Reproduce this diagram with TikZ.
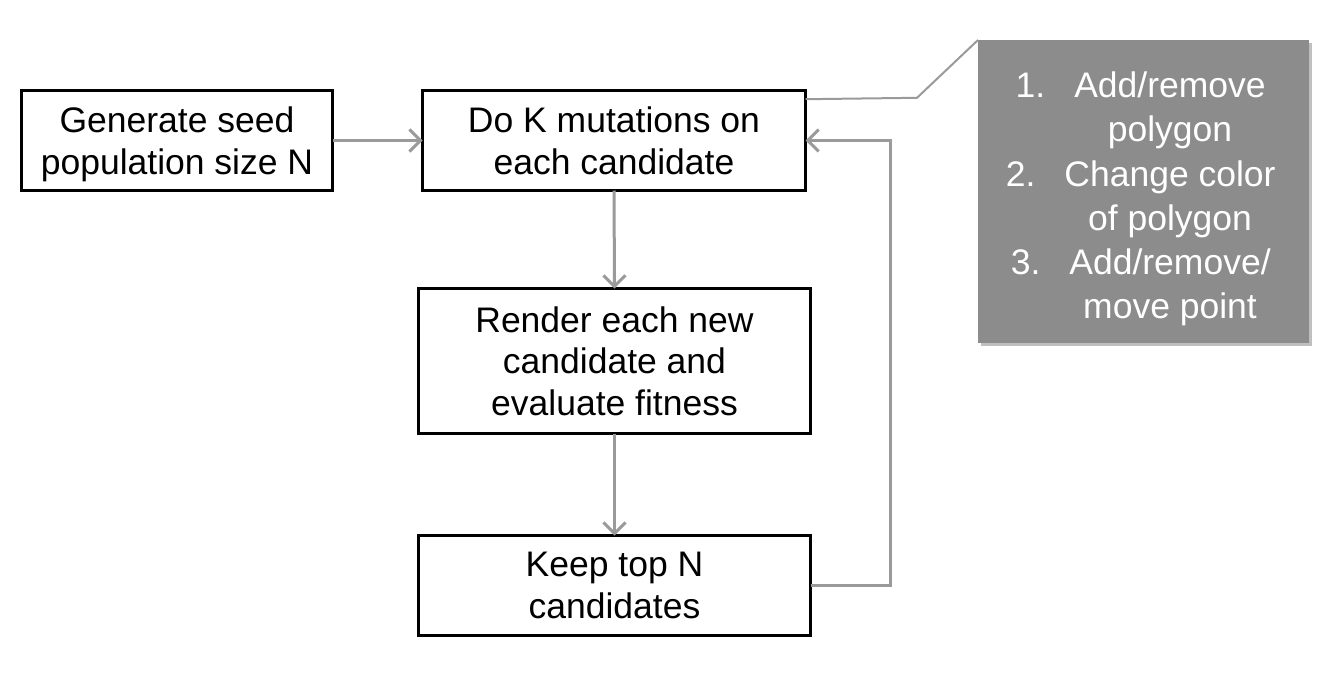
\documentclass[tikz,border=0pt]{standalone}
\usepackage{fontspec}
\setmainfont{Liberation Sans}
\usetikzlibrary{arrows.meta,shadows}
\definecolor{arrgray}{HTML}{9A9A9A}
\definecolor{notegray}{HTML}{8C8C8C}
\newcommand{\nodepth}[1]{\raisebox{0pt}[\height][0pt]{#1}}
\begin{document}
\begin{tikzpicture}[x=1pt,y=-1pt,
  stepbox/.style={draw=black, line width=3pt, fill=white, align=center,
    inner sep=0pt, outer sep=0pt, text=black,
    font=\fontsize{35.5}{41.5}\selectfont,
    drop shadow={shadow xshift=1.5pt, shadow yshift=-1.5pt, opacity=0.18, fill=black}},
  arr/.style={draw=arrgray, line width=3pt,
    -{Straight Barb[length=11pt,width=22pt,line width=3pt]}},
  notebox/.style={fill=notegray, draw=none, inner sep=0pt, outer sep=0pt,
    drop shadow={shadow xshift=2.5pt, shadow yshift=-2.5pt, opacity=0.25, fill=black}},
  notetext/.style={text=white, inner sep=0pt, outer sep=0pt,
    font=\fontsize{35.5}{42}\selectfont, anchor=base},
  leader/.style={draw=arrgray, line width=2pt}]
\useasboundingbox (0,0) rectangle (1332,678);

% main boxes
\node[stepbox, minimum width=311pt, minimum height=100pt] (A) at (177,140.5)
  {Generate seed\\\nodepth{population size N}};
\node[stepbox, minimum width=383pt, minimum height=100pt] (B) at (614,140.5)
  {Do K mutations on\\\nodepth{each candidate}};
\node[stepbox, minimum width=392pt, minimum height=145pt] (C) at (614.5,361)
  {Render each new\\candidate and\\\nodepth{evaluate fitness}};
\node[stepbox, minimum width=392pt, minimum height=100pt] (D) at (614.5,585.5)
  {Keep top N\\\nodepth{candidates}};

% callout box
\node[notebox, minimum width=331pt, minimum height=303pt] (note) at (1143.5,191.5) {};
\node[notetext] (l1) at (1170,97.8) {Add/remove};
\node[notetext] (l2) at (1170,141.9) {polygon};
\node[notetext] (l3) at (1170,186) {Change color};
\node[notetext] (l4) at (1170,230) {of polygon};
\node[notetext] (l5) at (1170,274) {Add/remove/};
\node[notetext] (l6) at (1170,318) {move point};
\node[notetext, anchor=base east] (n1) at ([xshift=-29pt]l1.base west) {1.};
\node[notetext, anchor=base east] (n2) at ([xshift=-29pt]l3.base west) {2.};
\node[notetext, anchor=base east] (n3) at ([xshift=-29pt]l5.base west) {3.};

% connectors
\draw[arr] (A.east) -- (B.west);
\draw[arr] (B.south) -- (C.north);
\draw[arr] (C.south) -- (D.north);
\coordinate (loop) at (890,585.5);
\draw[arr] (D.east) -- (loop) |- (B.east);
\coordinate (bend) at (917,97.8);
\draw[leader] ([yshift=-8.7pt]B.north east) -- (bend) -- (note.north west);
\end{tikzpicture}
\end{document}
